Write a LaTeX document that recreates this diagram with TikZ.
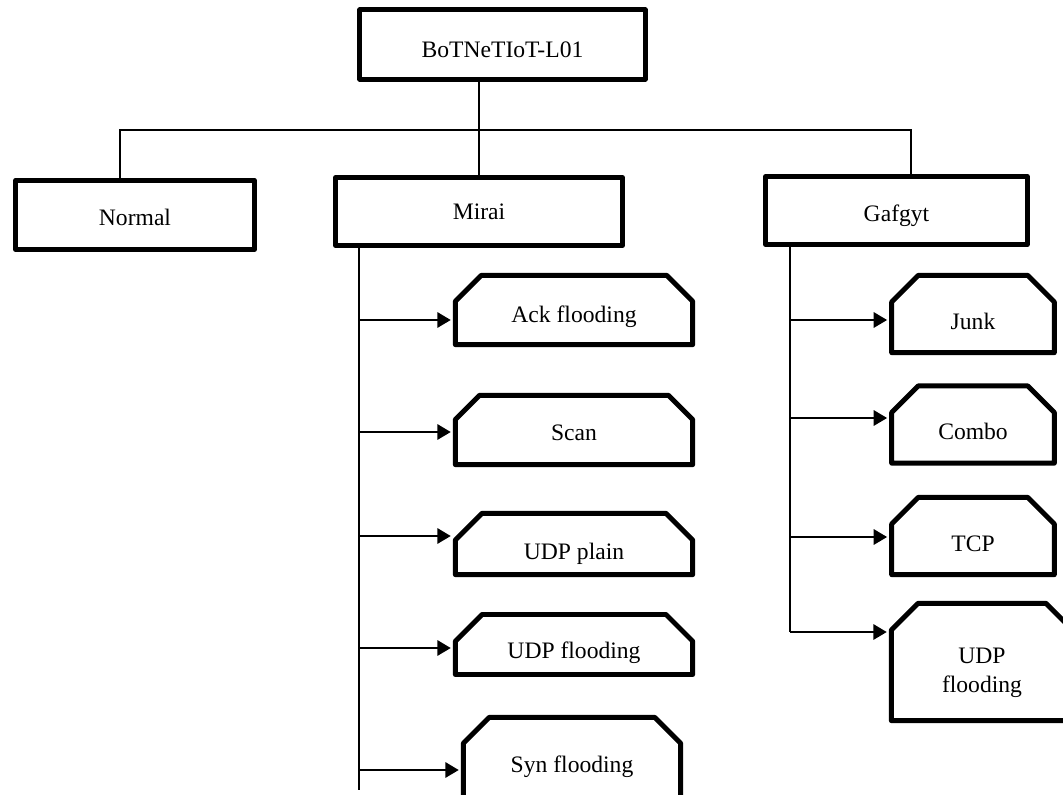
\documentclass[tikz,border=0pt]{standalone}
\usepackage{fontspec}
\setmainfont{Liberation Serif}
\usetikzlibrary{shapes.misc, arrows.meta}
\tikzset{
    catbox/.style={draw, line width=3.7pt, line join=round, rectangle, inner sep=0pt,
        font=\fontsize{17.7}{22}\selectfont, text height=19pt, text depth=0pt},
    subbox/.style={catbox, chamfered rectangle, chamfered rectangle corners={north west, north east},
        chamfered rectangle xsep=10pt, chamfered rectangle ysep=10pt},
    link/.style={line width=1.5pt},
    arr/.style={link, -{Triangle[length=10pt, width=11.5pt]}, shorten >=1.6pt}
}

\begin{document}
\begin{tikzpicture}[x=0.75pt, y=-0.75pt]

    \clip (0,0) rectangle (1063,795);

    % top level
    \node[catbox, minimum width=214pt, minimum height=52pt, text height=20pt] (root) at (502.5,44.5) {BoTNeTIoT-L01};

    \node[catbox, minimum width=179pt, minimum height=52pt, text height=16.2pt] (normal) at (135,215) {Normal};
    \node[catbox, minimum width=215pt, minimum height=51pt, text height=12pt] (mirai) at (479,211.5) {Mirai};
    \node[catbox, minimum width=196pt, minimum height=51pt, text height=17pt] (gafgyt) at (896.5,210.5) {Gafgyt};

    \coordinate (busL) at (120,130);
    \coordinate (busR) at (911,130);
    \draw[link] (root.south -| mirai) -- (mirai.north);
    \draw[link] (normal.north -| busL) -- (busL) -- (busR) -- (gafgyt.north -| busR);

    % Mirai attacks
    \node[subbox, minimum width=178pt, minimum height=52pt] (ack) at (574,310) {Ack flooding};
    \node[subbox, minimum width=178pt, minimum height=52pt, text height=16.2pt] (scan) at (574,430) {Scan};
    \node[subbox, minimum width=178pt, minimum height=46pt, text height=23.5pt] (udpplain) at (574,544) {UDP plain};
    \node[subbox, minimum width=178pt, minimum height=45pt, text height=21.5pt] (udpflood) at (574,644.5) {UDP flooding};
    \node[subbox, minimum width=163pt, minimum height=64pt] (syn) at (572,760) {Syn flooding};

    \coordinate (mbus) at (359,790);
    \draw[link] (mirai.south -| mbus) -- (mbus);
    \foreach \nm/\yy in {ack/320, scan/432, udpplain/536, udpflood/648, syn/770} {
        \coordinate (\nm-in) at (359,\yy);
        \draw[arr] (\nm-in) -- (\nm-in -| \nm.west);
    }

    % Gafgyt attacks
    \node[subbox, minimum width=122pt, minimum height=58pt, text height=23.5pt] (junk) at (973,314) {Junk};
    \node[subbox, minimum width=122pt, minimum height=58pt, text height=23pt] (combo) at (973,424.5) {Combo};
    \node[subbox, minimum width=122pt, minimum height=58pt, text height=23pt] (tcp) at (973,536) {TCP};
    \node[subbox, minimum width=136pt, minimum height=88pt, align=center, text height=, text depth=] (gudp) at (982,662) {\rule{0pt}{28pt}UDP\\flooding};

    \coordinate (gbus) at (790,632);
    \draw[link] (gafgyt.south -| gbus) -- (gbus);
    \foreach \nm/\yy in {junk/320, combo/418, tcp/537, gudp/632} {
        \coordinate (\nm-in) at (790,\yy);
        \draw[arr] (\nm-in) -- (\nm-in -| \nm.west);
    }

\end{tikzpicture}
\end{document}
